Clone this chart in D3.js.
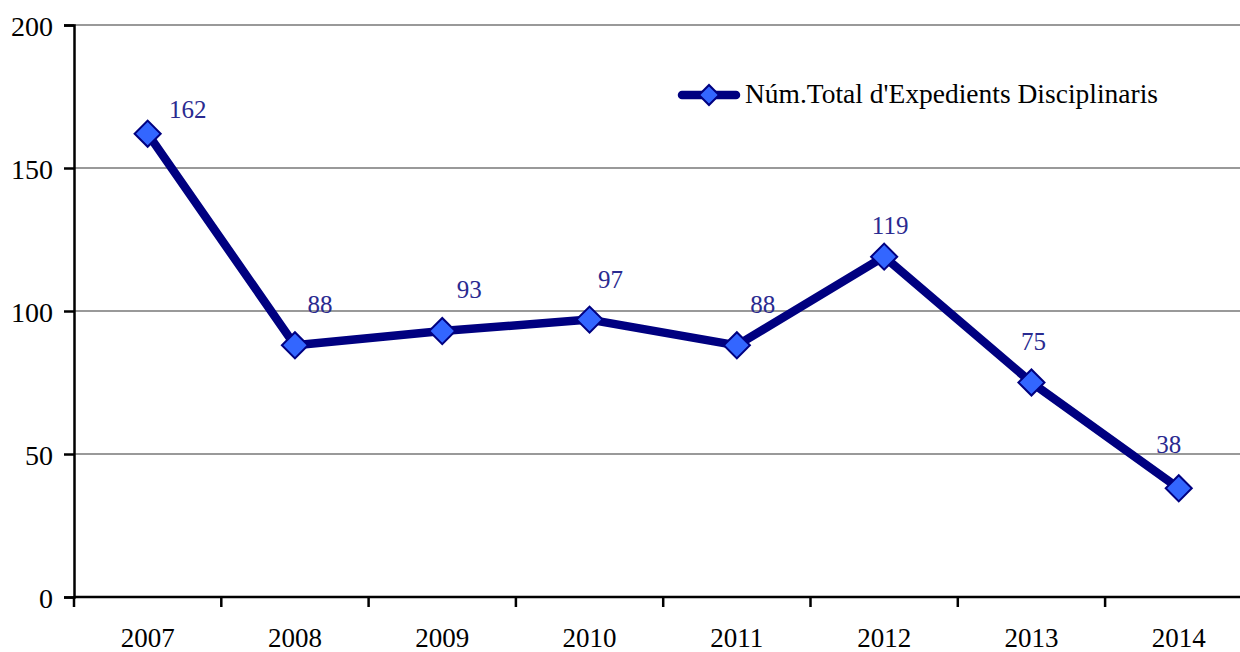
<!DOCTYPE html>
<html>
<head>
<meta charset="utf-8">
<script src="https://cdn.jsdelivr.net/npm/d3@7"></script>
<style>
  body { margin: 0; background: #fff; }
  svg { display: block; font-family: "Liberation Serif", "DejaVu Serif", serif; }
</style>
</head>
<body>
<div class="chart"></div>
<script>
// data
var years = ['2007', '2008', '2009', '2010', '2011', '2012', '2013', '2014'];
var expedients = [162, 88, 93, 97, 88, 119, 75, 38];
var yTicks = [0, 50, 100, 150, 200];
var seriesName = "Núm.Total d'Expedients Disciplinaris";

// where each value label sits relative to its point
var labelDx = [40, 25, 27, 21, 26, 6, 2, -10];
var labelDy = [-16, -32, -33, -32, -32, -23, -33, -35];

var width = 1240, height = 652;
var plotLeft = 74, plotTop = 25, plotBottom = 597;
var navy = '#000080';

var svg = d3.select('.chart').append('svg')
  .attr('width', width)
  .attr('height', height);

var x = d3.scaleBand()
  .domain(years)
  .range([plotLeft, plotLeft + 8 * 147.3]);

var y = d3.scaleLinear()
  .domain([0, 200])
  .range([plotBottom, plotTop]);

// grid
svg.append('g').selectAll('line')
  .data(yTicks.filter(function (d) { return d > 0; }))
  .enter()
  .append('line')
  .attr('x1', plotLeft)
  .attr('x2', width)
  .attr('y1', function (d) { return y(d); })
  .attr('y2', function (d) { return y(d); })
  .style('stroke', '#999')
  .style('stroke-width', 2);

// y axis
var yAxis = svg.append('g')
  .attr('transform', 'translate(' + plotLeft + ',0)')
  .call(d3.axisLeft(y).tickValues(yTicks).tickSize(10).tickPadding(11));
yAxis.select('.domain').style('stroke', '#000').style('stroke-width', 2.5);
yAxis.selectAll('.tick line').style('stroke', '#000').style('stroke-width', 2.5);
yAxis.selectAll('.tick text')
  .style('font-size', '28px')
  .style('fill', '#000')
  .attr('dy', '0.36em')
  .style('font-family', '"Liberation Serif", serif');

// x axis (labels in the middle, tick marks between categories)
var xAxis = svg.append('g')
  .attr('transform', 'translate(0,' + plotBottom + ')')
  .call(d3.axisBottom(x).tickSize(0).tickPadding(0));
xAxis.select('.domain').remove();
xAxis.selectAll('.tick text')
  .attr('y', 50)
  .attr('dy', 0)
  .style('font-size', '27px')
  .style('fill', '#000')
  .style('font-family', '"Liberation Serif", serif');

svg.append('line')
  .attr('x1', plotLeft)
  .attr('x2', width)
  .attr('y1', plotBottom)
  .attr('y2', plotBottom)
  .style('stroke', '#000')
  .style('stroke-width', 2.5);

svg.append('g').selectAll('line')
  .data(years)
  .enter()
  .append('line')
  .attr('x1', function (d) { return x(d); })
  .attr('x2', function (d) { return x(d); })
  .attr('y1', plotBottom)
  .attr('y2', plotBottom + 10)
  .style('stroke', '#000')
  .style('stroke-width', 2.5);

// the series
var pts = years.map(function (d, i) {
  return [x(d) + x.bandwidth() / 2, y(expedients[i])];
});

svg.append('path')
  .datum(pts)
  .attr('d', d3.line())
  .style('fill', 'none')
  .style('stroke', navy)
  .style('stroke-width', 8.5)
  .style('stroke-linejoin', 'round');

var diamond = d3.symbol().type(d3.symbolSquare).size(340);

svg.append('g').selectAll('path')
  .data(pts)
  .enter()
  .append('path')
  .attr('d', diamond)
  .attr('transform', function (d) { return 'translate(' + d[0] + ',' + d[1] + ') rotate(45)'; })
  .style('fill', '#3366ff')
  .style('stroke', navy)
  .style('stroke-width', 2);

svg.append('g').selectAll('text')
  .data(pts)
  .enter()
  .append('text')
  .attr('x', function (d, i) { return d[0] + labelDx[i]; })
  .attr('y', function (d, i) { return d[1] + labelDy[i]; })
  .attr('text-anchor', 'middle')
  .style('font-size', '25px')
  .style('fill', '#2a2a90')
  .text(function (d, i) { return expedients[i]; });

// legend
var legend = svg.append('g');
legend.append('line')
  .attr('x1', 682)
  .attr('x2', 736)
  .attr('y1', 95)
  .attr('y2', 95)
  .style('stroke', navy)
  .style('stroke-width', 8.5)
  .style('stroke-linecap', 'round');
legend.append('path')
  .attr('d', d3.symbol().type(d3.symbolSquare).size(200))
  .attr('transform', 'translate(709,95) rotate(45)')
  .style('fill', '#3366ff')
  .style('stroke', navy)
  .style('stroke-width', 2);
legend.append('text')
  .attr('x', 745)
  .attr('y', 103)
  .attr('textLength', 413)
  .attr('lengthAdjust', 'spacingAndGlyphs')
  .style('font-size', '27px')
  .style('fill', '#000')
  .text(seriesName);
</script>
</body>
</html>
